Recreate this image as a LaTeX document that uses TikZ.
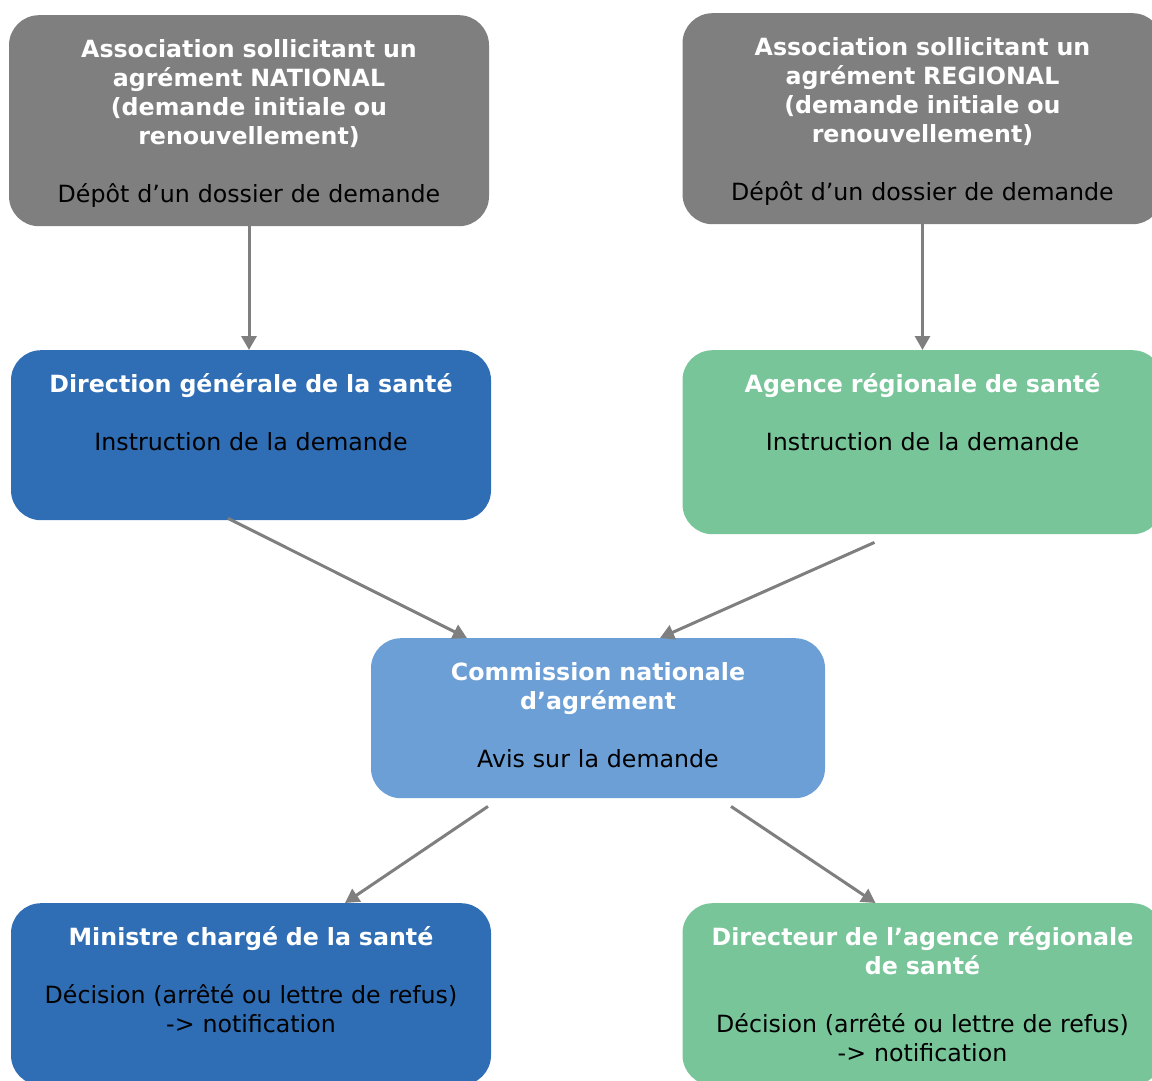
\documentclass[tikz,border=0pt]{standalone}
\usepackage{fontspec}
\setmainfont{DejaVu Sans}
\usetikzlibrary{arrows.meta}

\definecolor{boxgray}{HTML}{7F7F7F}
\definecolor{boxblue}{HTML}{2F6EB5}
\definecolor{boxlight}{HTML}{6C9FD5}
\definecolor{boxgreen}{HTML}{78C59A}

\tikzset{
  box/.style={rounded corners=30pt, inner xsep=20pt, inner ysep=22pt,
    text width=440pt, align=center, anchor=north, text height=20pt,
    font=\fontsize{23.7}{29}\selectfont},
  flow/.style={draw=boxgray, line width=3pt, -{Triangle[length=14pt,width=15pt]}}
}
\newcommand{\head}[1]{\textcolor{white}{\textbf{#1}}}

\begin{document}
\begin{tikzpicture}[x=1pt, y=-1pt]

% ---------------------------
% Frame (same size as the picture)
% ---------------------------
\useasboundingbox (0,0) rectangle (1152,1081);
\clip (0,0) rectangle (1152,1081);

% ---------------------------
% Requests
% ---------------------------
\node[box, fill=boxgray, text depth=147pt] (natl) at (249,15)
  {\head{Association sollicitant un\\ agrément NATIONAL\\ (demande initiale ou\\ renouvellement)}\\[29pt]
   Dépôt d’un dossier de demande};
\node[box, fill=boxgray, text depth=147pt] (regl) at (922.5,13)
  {\head{Association sollicitant un\\ agrément REGIONAL\\ (demande initiale ou\\ renouvellement)}\\[29pt]
   Dépôt d’un dossier de demande};

% ---------------------------
% Instruction
% ---------------------------
\node[box, fill=boxblue, text depth=106pt] (dgs) at (251,350)
  {\head{Direction générale de la santé}\\[29pt]
   Instruction de la demande};
\node[box, fill=boxgreen, text depth=120pt] (ars) at (922.5,350)
  {\head{Agence régionale de santé}\\[29pt]
   Instruction de la demande};

% ---------------------------
% Commission
% ---------------------------
\node[box, fill=boxlight, text width=414pt, text depth=96pt] (cna) at (598,638)
  {\head{Commission nationale\\ d’agrément}\\[29pt]
   Avis sur la demande};

% ---------------------------
% Decisions
% ---------------------------
\node[box, fill=boxblue, text depth=118pt] (min) at (251,903)
  {\head{Ministre chargé de la santé}\\[29pt]
   Décision (arrêté ou lettre de refus)\\ -> notification};
\node[box, fill=boxgreen, text depth=118pt] (dir) at (922.5,903)
  {\head{Directeur de l’agence régionale\\ de santé}\\[29pt]
   Décision (arrêté ou lettre de refus)\\ -> notification};

% ---------------------------
% Arrows
% ---------------------------
\draw[flow] (natl.south) -- (dgs.north -| natl.south);
\draw[flow] (regl.south) -- (ars.north);
\draw[flow] ([xshift=-23pt,yshift=2pt]dgs.south) -- ([xshift=-131pt]cna.north);
\draw[flow] ([xshift=-48pt,yshift=-8pt]ars.south) -- ([xshift=62pt]cna.north);
\draw[flow] ([xshift=-110pt,yshift=-8pt]cna.south) -- ([xshift=94pt]min.north);
\draw[flow] ([xshift=133pt,yshift=-8pt]cna.south) -- ([xshift=-47pt]dir.north);

\end{tikzpicture}
\end{document}
